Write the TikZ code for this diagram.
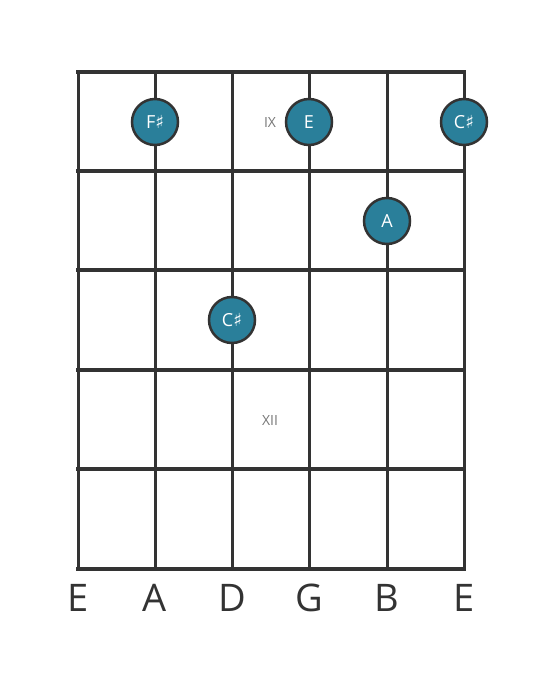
\documentclass[tikz,border=0pt]{standalone}
\usepackage{fontspec}
\setmainfont{Open Sans}
\newfontfamily\symfont{DejaVu Sans}
\usepackage{xcolor}
\usepackage{tikz}
\definecolor{board}{HTML}{333333}
\definecolor{notefill}{HTML}{2A7F9A}
\definecolor{numgray}{HTML}{777777}
\newcommand{\shp}{{\symfont\char"266F}}
\tikzset{
  fretline/.style={draw=board,line width=4.5pt},
  stringline/.style={draw=board,line width=3pt},
  note/.style={circle,draw=board,line width=2.5pt,fill=notefill,minimum size=46pt,inner sep=0pt,text=white,font=\fontsize{18}{18}\selectfont},
  fretnum/.style={text=numgray,font=\fontsize{14}{14}\selectfont},
  strname/.style={text=board,font=\fontsize{38}{38}\selectfont}
}
\begin{document}
\begin{tikzpicture}[x=1pt,y=-1pt]
    \useasboundingbox (0,0) rectangle (559,682);
    \draw[stringline] (78,72) -- (78,569);
    \draw[stringline] (155,72) -- (155,569);
    \draw[stringline] (232,72) -- (232,569);
    \draw[stringline] (309,72) -- (309,569);
    \draw[stringline] (387,72) -- (387,569);
    \draw[stringline] (464,72) -- (464,569);
    \draw[fretline] (76,72) -- (466,72);
    \draw[fretline] (76,171) -- (466,171);
    \draw[fretline] (76,270) -- (466,270);
    \draw[fretline] (76,370) -- (466,370);
    \draw[fretline] (76,469) -- (466,469);
    \draw[fretline] (76,569) -- (466,569);
    \node[fretnum] (ix) at (270,123) {IX};
    \node[fretnum] (xii) at (270,420) {XII};
    \node[note] (fsharp) at (155,122) {F\shp};
    \node[note] (etop) at (309,122) {E};
    \node[note] (csharptop) at (464,122) {C\shp};
    \node[note] (anote) at (387,221) {A};
    \node[note] (csharp) at (232,320) {C\shp};
    \node[strname] (s6) at (78,598) {E};
    \node[strname] (s5) at (155,598) {A};
    \node[strname] (s4) at (232,598) {D};
    \node[strname] (s3) at (309,598) {G};
    \node[strname] (s2) at (387,598) {B};
    \node[strname] (s1) at (464,598) {E};
\end{tikzpicture}
\end{document}
